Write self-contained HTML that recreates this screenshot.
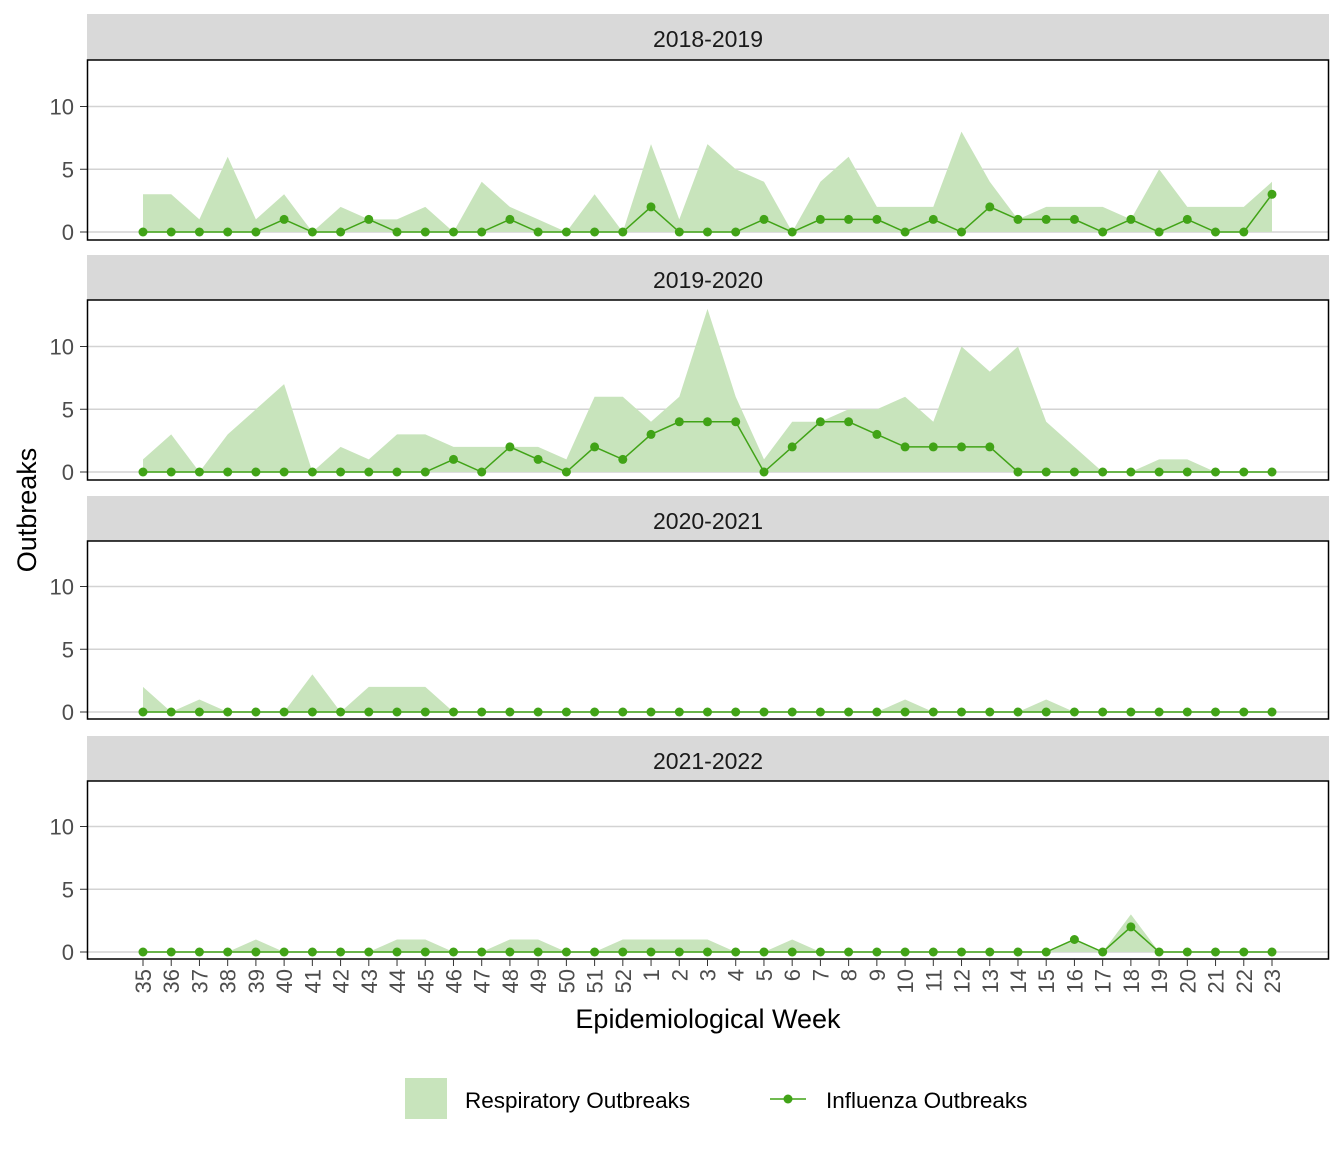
<!DOCTYPE html>
<html><head><meta charset="utf-8"><style>
body{margin:0;background:#fff;}
svg text{font-family:"Liberation Sans",Arial,sans-serif;}
</style></head><body>
<svg id="s" width="1344" height="1152" xmlns="http://www.w3.org/2000/svg"></svg>
<script>
const S=document.getElementById('s');
let h='';
const weeks=[];for(let w=35;w<=52;w++)weeks.push(w);for(let w=1;w<=23;w++)weeks.push(w);
const X=i=>143+i*(1272-143)/40;
const panels=[
{t:'2018-2019',st:14,top:60,bot:240,z:232,
r:[3,3,1,6,1,3,0,2,1,1,2,0,4,2,1,0,3,0,7,1,7,5,4,0,4,6,2,2,2,8,4,1,2,2,2,1,5,2,2,2,4],
f:[0,0,0,0,0,1,0,0,1,0,0,0,0,1,0,0,0,0,2,0,0,0,1,0,1,1,1,0,1,0,2,1,1,1,0,1,0,1,0,0,3]},
{t:'2019-2020',st:255,top:300,bot:480,z:472,
r:[1,3,0,3,5,7,0,2,1,3,3,2,2,2,2,1,6,6,4,6,13,6,1,4,4,5,5,6,4,10,8,10,4,2,0,0,1,1,0,0,0],
f:[0,0,0,0,0,0,0,0,0,0,0,1,0,2,1,0,2,1,3,4,4,4,0,2,4,4,3,2,2,2,2,0,0,0,0,0,0,0,0,0,0]},
{t:'2020-2021',st:496,top:541,bot:719,z:712,
r:[2,0,1,0,0,0,3,0,2,2,2,0,0,0,0,0,0,0,0,0,0,0,0,0,0,0,0,1,0,0,0,0,1,0,0,0,0,0,0,0,0],
f:new Array(41).fill(0)},
{t:'2021-2022',st:736,top:781,bot:959,z:952,
r:[0,0,0,0,1,0,0,0,0,1,1,0,0,1,1,0,0,1,1,1,1,0,0,1,0,0,0,0,0,0,0,0,0,1,0,3,0,0,0,0,0],
f:[0,0,0,0,0,0,0,0,0,0,0,0,0,0,0,0,0,0,0,0,0,0,0,0,0,0,0,0,0,0,0,0,0,1,0,2,0,0,0,0,0]}
];
const u=12.55;
for(const p of panels){
 h+=`<rect x="87" y="${p.st}" width="1242" height="${p.top-p.st}" fill="#d9d9d9"/>`;
 h+=`<text x="708" y="${p.st+33}" font-size="23" text-anchor="middle" fill="#1a1a1a">${p.t}</text>`;
 for(const v of [0,5,10]){const y=p.z-v*u;
  h+=`<line x1="88" x2="1328" y1="${y}" y2="${y}" stroke="#d3d3d3" stroke-width="1.5"/>`;
  h+=`<line x1="80" x2="87" y1="${y}" y2="${y}" stroke="#333" stroke-width="1"/>`;
  h+=`<text x="74" y="${y+8}" font-size="22" text-anchor="end" fill="#4d4d4d">${v}</text>`;}
 let pts=`${X(0)},${p.z} `+p.r.map((v,i)=>`${X(i).toFixed(1)},${(p.z-v*u).toFixed(1)}`).join(' ')+` ${X(40)},${p.z}`;
 h+=`<polygon points="${pts}" fill="#c8e4bc"/>`;
 h+=`<polyline points="${p.f.map((v,i)=>`${X(i).toFixed(1)},${(p.z-v*u).toFixed(1)}`).join(' ')}" fill="none" stroke="#41a317" stroke-width="1.5"/>`;
 p.f.forEach((v,i)=>{h+=`<circle cx="${X(i).toFixed(1)}" cy="${(p.z-v*u).toFixed(1)}" r="4.5" fill="#41a317"/>`;});
 h+=`<rect x="87.5" y="${p.top}" width="1241" height="${p.bot-p.top}" fill="none" stroke="#000" stroke-width="1.5"/>`;
}
weeks.forEach((w,i)=>{const x=X(i);
 h+=`<line x1="${x}" x2="${x}" y1="959" y2="966" stroke="#333"/>`;
 h+=`<text transform="translate(${x+8},969) rotate(-90)" font-size="22" text-anchor="end" fill="#4d4d4d">${w}</text>`;});
h+=`<text x="708" y="1028" font-size="27" text-anchor="middle" fill="#000">Epidemiological Week</text>`;
h+=`<text transform="translate(36,510) rotate(-90)" font-size="27" text-anchor="middle" fill="#000">Outbreaks</text>`;
h+=`<rect x="405" y="1078" width="42" height="41" fill="#c8e4bc"/>`;
h+=`<text x="465" y="1108" font-size="22.5" fill="#000">Respiratory Outbreaks</text>`;
h+=`<line x1="770" x2="806" y1="1099" y2="1099" stroke="#41a317" stroke-width="1.5"/><circle cx="788" cy="1099" r="4.5" fill="#41a317"/>`;
h+=`<text x="826" y="1108" font-size="22.5" fill="#000">Influenza Outbreaks</text>`;
S.innerHTML=h;
</script>
</body></html>
